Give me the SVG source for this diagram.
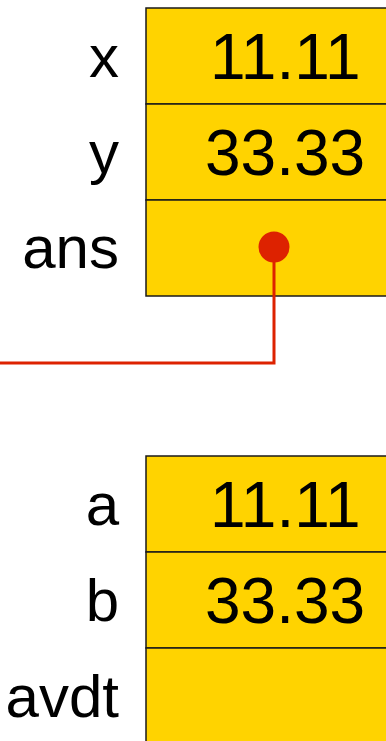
<svg xmlns="http://www.w3.org/2000/svg" width="386" height="741" viewBox="0 0 386 741">
<style>
.cell{fill:#FFD300;stroke:#1a1a1a;stroke-width:1.5}
.lbl{font-family:"Liberation Sans",Arial,sans-serif;font-size:60px;fill:#000;text-anchor:end}
.val{font-family:"Liberation Sans",Arial,sans-serif;font-size:64px;fill:#000;text-anchor:start}
.wire{fill:none;stroke:#DD2200;stroke-width:3}
</style>
<rect width="386" height="741" fill="#fff"/>
<g id="x">
<rect class="cell" x="146" y="8" width="260" height="96"/>
<text class="lbl" x="119" y="77">x</text>
<text class="val" x="210" y="79">11.11</text>
</g>
<g id="y">
<rect class="cell" x="146" y="104" width="260" height="96"/>
<text class="lbl" x="119" y="173">y</text>
<text class="val" x="205" y="175">33.33</text>
</g>
<g id="ans">
<rect class="cell" x="146" y="200" width="260" height="96"/>
<text class="lbl" x="119" y="268">ans</text>
</g>
<g id="a">
<rect class="cell" x="146" y="456" width="260" height="96"/>
<text class="lbl" x="119" y="525">a</text>
<text class="val" x="210" y="527">11.11</text>
</g>
<g id="b">
<rect class="cell" x="146" y="552" width="260" height="96"/>
<text class="lbl" x="119" y="621">b</text>
<text class="val" x="205" y="623">33.33</text>
</g>
<g id="avdt">
<rect class="cell" x="146" y="648" width="260" height="100"/>
<text class="lbl" x="119" y="717">avdt</text>
</g>
<g id="connectors">
<polyline class="wire" points="274,247 274,363 0,363"/>
<circle cx="274" cy="247" r="15.5" fill="#DD2200"/>
</g>
</svg>
